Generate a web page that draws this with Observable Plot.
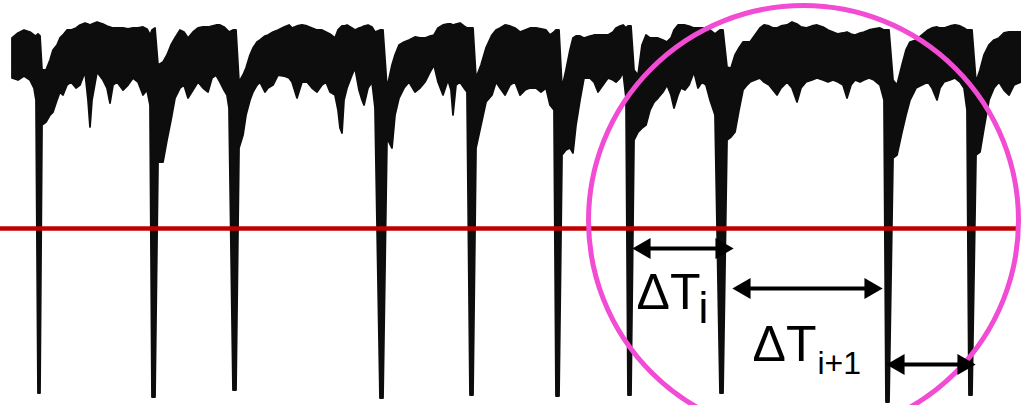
<!DOCTYPE html>
<html><head><meta charset="utf-8">
<script src="https://cdn.jsdelivr.net/npm/d3@7"></script>
<script src="https://cdn.jsdelivr.net/npm/@observablehq/plot@0.6"></script>
<style>html,body{margin:0;padding:0;background:#fff;overflow:hidden}</style>
</head><body><div id="chart"></div>
<script>
// Trace envelope: time (x) with upper and lower edge of the noisy band (depth, downward)
const traceX = [12,18,24,30,34,36,38,40,42,46,50,53,57,60,63,67,71,76,80,85,88,90,92,97,103,107,110,113,117,123,128,133,138,143,147,150,152,155,
158,163,167,171,175,180,184,188,193,198,203,208,212,216,220,224,227,229,233,236,
239,243,246,250,253,257,260,265,268,273,278,284,289,292,297,302,307,312,317,322,326,330,335,338,340,342,344,347,352,355,359,362,364,368,372,375,380,383,
387,392,395,399,404,409,415,420,425,430,434,438,443,448,451,453,456,460,464,467,470,473,
476,481,486,492,496,500,505,510,515,520,525,530,536,541,546,550,554,556,559,
562,566,570,573,576,580,584,590,594,598,603,608,613,616,620,623,626,628,631,
634,638,642,646,650,654,658,663,667,671,674,678,681,685,689,694,698,702,706,710,715,720,723,
727,731,735,739,743,747,750,755,760,764,769,773,777,781,787,792,797,801,806,812,817,823,828,833,838,843,847,851,855,860,864,869,874,880,884,886,889,
893,897,902,906,910,916,922,928,932,937,940,944,950,955,960,964,967,969,972,
976,980,984,989,994,999,1004,1009,1014,1021];
const traceTop = [38,33,30,32,35,36,34,36,70,70,60,50,45,38,35,30,30,28,25,23,24,25,24,22,24,26,27,28,28,28,29,28,28,27,29,35,30,28,
65,62,55,45,38,30,32,38,32,28,27,27,26,25,25,27,30,32,30,30,
82,75,68,55,48,42,40,36,35,32,30,27,25,28,26,25,26,28,30,30,32,34,38,30,28,26,26,25,28,30,28,27,26,25,27,32,30,30,
88,65,55,45,42,40,37,38,38,36,35,28,25,24,24,25,24,23,26,28,28,28,
78,65,48,35,30,28,25,26,28,32,30,28,28,29,30,35,32,30,30,
88,70,50,38,36,36,38,36,35,35,35,35,32,28,26,25,28,26,26,
70,75,45,35,38,38,38,40,42,38,30,25,25,25,26,28,28,28,28,30,34,30,30,
67,68,55,48,42,42,42,35,28,25,26,28,28,26,25,22,24,27,28,26,25,27,30,32,34,33,32,34,35,33,32,30,29,28,30,30,30,
80,85,65,50,42,40,35,30,28,27,28,28,26,25,26,28,30,30,30,
82,70,55,45,40,38,33,32,32,32];
const traceBottom = [78,80,76,80,88,100,393,393,125,122,115,112,100,92,95,85,82,88,85,72,100,127,100,72,80,88,103,85,82,90,85,78,82,95,90,105,397,397,
162,162,140,120,98,88,85,98,90,82,88,92,78,75,82,90,95,108,390,390,
148,135,115,100,92,85,82,92,88,85,75,76,78,82,98,82,82,88,92,85,82,92,95,110,128,133,100,88,75,68,90,100,105,88,82,108,398,398,
138,148,115,98,88,82,92,88,82,72,65,82,95,80,90,115,85,82,88,92,395,395,
148,125,102,95,82,88,95,85,82,95,90,88,88,92,88,105,110,396,396,
155,150,148,153,125,100,78,78,82,92,85,78,80,82,78,72,98,395,395,
140,132,128,125,110,102,98,92,85,95,108,95,88,90,85,72,88,82,85,100,115,393,393,
140,137,132,110,90,85,82,80,78,82,85,90,95,88,82,88,102,88,82,80,78,80,82,80,82,85,98,85,80,82,80,78,80,85,100,402,402,
158,155,132,115,100,88,85,82,88,100,88,82,80,78,82,88,110,395,395,
155,152,128,100,88,82,90,95,85,82];

// Detection threshold level
const thresholdLevel = [228];

// Beat-to-beat intervals ΔT (start / end time, drawn at a level)
const intervalStart = [632, 732, 886];
const intervalEnd   = [733, 882, 975];
const intervalLevel = [248, 288, 364];

// Labels
const labelMain = ["ΔT", "ΔT"];
const labelSub  = ["i", "i+1"];

// Highlight ring around the last beats
const ringCenterX = [803];
const ringCenterY = [220];

const trace = traceX.map((x, i) => ({x, top: traceTop[i], bottom: traceBottom[i]}));
const intervals = intervalStart.map((s, i) => ({start: s, end: intervalEnd[i], level: intervalLevel[i]}));
const ring = ringCenterX.map((x, i) => ({x, y: ringCenterY[i]}));
const labels = [
  {main: labelMain[0], sub: labelSub[0], x: 636, y: 308, sx: 698, sy: 322, subSize: 44},
  {main: labelMain[1], sub: labelSub[1], x: 752, y: 360, sx: 817, sy: 373, subSize: 32}
];

const FONT = "Arial, 'Liberation Sans', Helvetica, sans-serif";

const chart = Plot.plot({
  width: 1021,
  height: 405,
  margin: 0,
  style: {background: "#fff", fontFamily: FONT},
  x: {domain: [0, 1021], range: [0, 1021], axis: null},
  y: {domain: [0, 405], range: [0, 405], axis: null},
  marks: [
    Plot.areaY(trace, {x: "x", y1: "bottom", y2: "top", fill: "#0d0d0d", stroke: "#0d0d0d", strokeWidth: 1.8, strokeLinejoin: "round", curve: "linear"}),
    Plot.ruleY(thresholdLevel, {x1: 0, x2: 1016, stroke: "#c00000", strokeWidth: 4.5}),
    Plot.dot(ring, {x: "x", y: "y", r: 215, stroke: "#f24bd4", strokeWidth: 5, fill: "none"}),
    Plot.link(intervals, {x1: d => d.start + 8, x2: d => d.end - 8, y1: "level", y2: "level", stroke: "#000", strokeWidth: 4}),
    Plot.dot(intervals, {x: "start", y: "level", symbol: "triangle", r: 7.8, rotate: -90, dx: 12, fill: "#000", stroke: "none"}),
    Plot.dot(intervals, {x: "end", y: "level", symbol: "triangle", r: 7.8, rotate: 90, dx: -12, fill: "#000", stroke: "none"}),
    Plot.text(labels, {x: "x", y: "y", text: "main", textAnchor: "start", lineAnchor: "bottom", fontSize: 50, fill: "#000", fontFamily: FONT}),
    Plot.text(labels, {x: "sx", y: "sy", text: "sub", textAnchor: "start", lineAnchor: "bottom", fontSize: d => d.subSize, fill: "#000", fontFamily: FONT})
  ]
});
document.getElementById("chart").appendChild(chart);
</script>
</body></html>
